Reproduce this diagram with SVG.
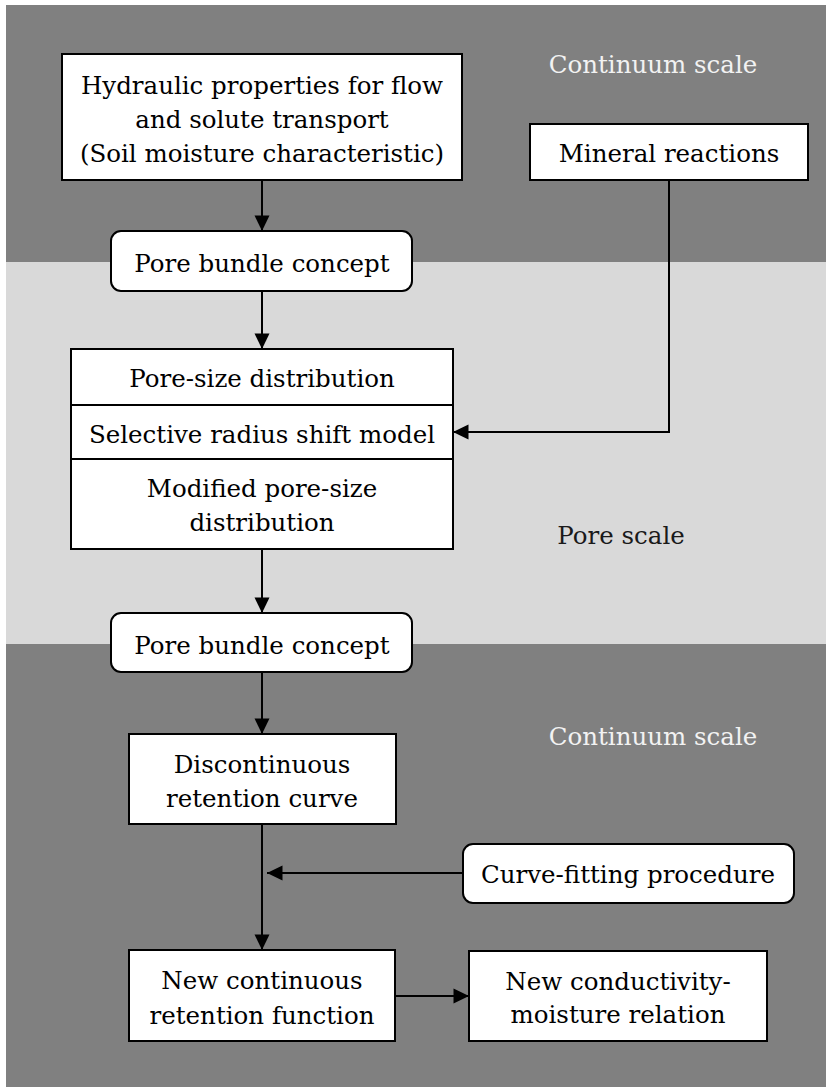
<svg xmlns="http://www.w3.org/2000/svg" width="826" height="1087" viewBox="0 0 826 1087">
<style>
.box{fill:#ffffff;stroke:#000000;stroke-width:2}
.t{font-family:"DejaVu Serif","Liberation Serif",serif;font-size:24.5px;fill:#000000;text-anchor:middle}
.scale-light{font-family:"DejaVu Serif","Liberation Serif",serif;font-size:24.5px;fill:#f2f2f2;text-anchor:middle}
.scale-dark{font-family:"DejaVu Serif","Liberation Serif",serif;font-size:24.5px;fill:#1a1a1a;text-anchor:middle}
.conn{fill:none;stroke:#000000;stroke-width:2}
</style>
<defs>
<marker id="arrow" markerUnits="userSpaceOnUse" markerWidth="17" markerHeight="16" viewBox="0 0 17 16" refX="16" refY="8" orient="auto">
<path d="M0.5,0.5 L16,8 L0.5,15.5 z" fill="#000000"/>
</marker>
</defs>
<g id="background">
<rect x="6" y="5" width="820" height="257" fill="#808080"/>
<rect x="6" y="262" width="820" height="382" fill="#d9d9d9"/>
<rect x="6" y="644" width="820" height="443" fill="#808080"/>
</g>
<g id="scale-labels">
<text class="scale-light" x="653" y="73">Continuum scale</text>
<text class="scale-dark" x="621" y="544">Pore scale</text>
<text class="scale-light" x="653" y="745">Continuum scale</text>
</g>
<g id="connectors">
<path class="conn" d="M262,180 L262,231" marker-end="url(#arrow)"/>
<path class="conn" d="M262,291 L262,349" marker-end="url(#arrow)"/>
<path class="conn" d="M669,180 L669,432 L453,432" marker-end="url(#arrow)"/>
<path class="conn" d="M262,549 L262,613" marker-end="url(#arrow)"/>
<path class="conn" d="M262,672 L262,734" marker-end="url(#arrow)"/>
<path class="conn" d="M262,824 L262,950" marker-end="url(#arrow)"/>
<path class="conn" d="M463,873 L267,873" marker-end="url(#arrow)"/>
<path class="conn" d="M395,996 L469,996" marker-end="url(#arrow)"/>
</g>
<g id="hydraulic-properties">
<rect class="box" x="62" y="54" width="400" height="126"/>
<text class="t" x="262" y="94">Hydraulic properties for flow</text>
<text class="t" x="262" y="128">and solute transport</text>
<text class="t" x="262" y="162">(Soil moisture characteristic)</text>
</g>
<g id="mineral-reactions">
<rect class="box" x="530" y="124" width="278" height="56"/>
<text class="t" x="669" y="162">Mineral reactions</text>
</g>
<g id="pore-bundle-1">
<rect class="box" x="111" y="231" width="301" height="60" rx="10" ry="10"/>
<text class="t" x="262" y="272">Pore bundle concept</text>
</g>
<g id="pore-size-distribution">
<rect class="box" x="71" y="349" width="382" height="56"/>
<text class="t" x="262" y="387">Pore-size distribution</text>
</g>
<g id="selective-radius-shift">
<rect class="box" x="71" y="405" width="382" height="54"/>
<text class="t" x="262" y="443">Selective radius shift model</text>
</g>
<g id="modified-pore-size">
<rect class="box" x="71" y="459" width="382" height="90"/>
<text class="t" x="262" y="497">Modified pore-size</text>
<text class="t" x="262" y="531">distribution</text>
</g>
<g id="pore-bundle-2">
<rect class="box" x="111" y="613" width="301" height="59" rx="10" ry="10"/>
<text class="t" x="262" y="654">Pore bundle concept</text>
</g>
<g id="discontinuous-retention">
<rect class="box" x="129" y="734" width="267" height="90"/>
<text class="t" x="262" y="773">Discontinuous</text>
<text class="t" x="262" y="807">retention curve</text>
</g>
<g id="curve-fitting">
<rect class="box" x="463" y="844" width="331" height="59" rx="10" ry="10"/>
<text class="t" x="628" y="883">Curve-fitting procedure</text>
</g>
<g id="new-continuous-retention">
<rect class="box" x="129" y="950" width="266" height="91"/>
<text class="t" x="262" y="989">New continuous</text>
<text class="t" x="262" y="1024">retention function</text>
</g>
<g id="new-conductivity">
<rect class="box" x="469" y="951" width="298" height="90"/>
<text class="t" x="618" y="990">New conductivity-</text>
<text class="t" x="618" y="1023">moisture relation</text>
</g>
</svg>
